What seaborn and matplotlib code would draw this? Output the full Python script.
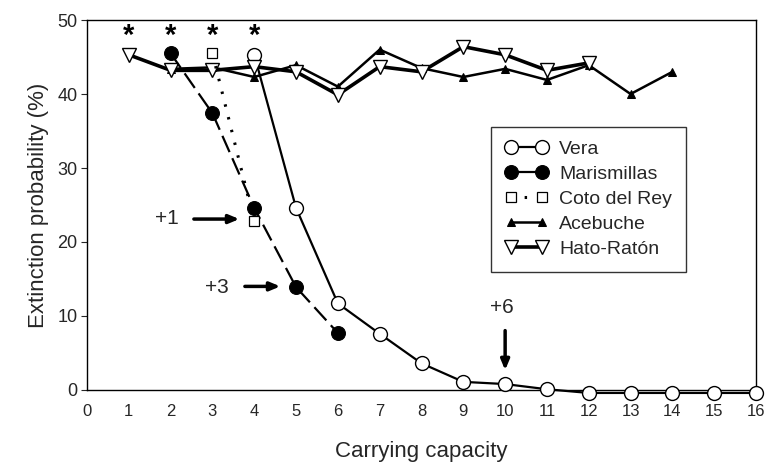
import numpy as np
import pandas as pd
import matplotlib
matplotlib.use("Agg")
import matplotlib.pyplot as plt
import seaborn as sns

# --- data ---
vera_x = [4, 5, 6, 7, 8, 9, 10, 11, 12, 13, 14, 15, 16]
vera_y = [45.3, 24.6, 11.7, 7.6, 3.6, 1.1, 0.8, 0.1, -0.4, -0.4, -0.4, -0.4, -0.4]

maris_x = [2, 3, 4, 5, 6]
maris_y = [45.5, 37.4, 24.6, 13.9, 7.7]

coto_x = [3, 4]
coto_y = [45.5, 22.8]

acebuche_x = [2, 3, 4, 5, 6, 7, 8, 9, 10, 11, 12, 13, 14]
acebuche_y = [43.4, 43.6, 42.3, 43.9, 41.0, 46.0, 43.5, 42.3, 43.4, 41.9, 43.9, 40.0, 43.0]

hato_x = [1, 2, 3, 4, 5, 6, 7, 8, 9, 10, 11, 12]
hato_y = [45.3, 43.2, 43.2, 43.7, 43.0, 39.9, 43.7, 43.0, 46.4, 45.3, 43.2, 44.2]

star_x = [1, 2, 3, 4]
star_y = 47.8

annot_labels = ["+1", "+3", "+6"]

sns.set_style("white")
plt.rcParams['font.family'] = ['Liberation Sans', 'DejaVu Sans']

fig = plt.figure(figsize=(7.67, 4.71), dpi=100)
ax = fig.add_axes([0.1134, 0.172, 0.8723, 0.7855])

sns.lineplot(x=vera_x, y=vera_y, ax=ax, color='black', lw=1.6, marker='o',
             markersize=10, markerfacecolor='white', markeredgecolor='black',
             markeredgewidth=1.0, label='Vera', clip_on=False, zorder=4)
sns.lineplot(x=maris_x, y=maris_y, ax=ax, color='black', lw=1.6, marker='o',
             markersize=10, markerfacecolor='black', markeredgecolor='black',
             linestyle=(0, (8, 3)), label='Marismillas', zorder=5)
sns.lineplot(x=coto_x, y=coto_y, ax=ax, color='black', lw=2.2, marker='s',
             markersize=6.5, markerfacecolor='white', markeredgecolor='black',
             markeredgewidth=0.9, linestyle=(0, (0.8, 3.5)), label='Coto del Rey', zorder=5)
sns.lineplot(x=acebuche_x, y=acebuche_y, ax=ax, color='black', lw=1.8, marker='^',
             markersize=6, markerfacecolor='black', markeredgecolor='black',
             label='Acebuche', zorder=3)
sns.lineplot(x=hato_x, y=hato_y, ax=ax, color='black', lw=2.6, marker='v',
             markersize=10.5, markerfacecolor='white', markeredgecolor='black',
             markeredgewidth=1.0, label='Hato-Ratón', zorder=4)

# significance stars
for sx in star_x:
    ax.text(sx, star_y, '*', ha='center', va='center', fontsize=21,
            fontweight='bold', color='black')

# arrows with extra-individual labels
arrow_kw = dict(arrowstyle='-|>,head_length=0.6,head_width=0.25', lw=2.5, color='black')
ax.annotate('', xy=(3.71, 23.1), xytext=(2.49, 23.1), arrowprops=arrow_kw)
ax.text(1.9, 23.2, annot_labels[0], ha='center', va='center', fontsize=15)
ax.annotate('', xy=(4.69, 14.0), xytext=(3.71, 14.0), arrowprops=arrow_kw)
ax.text(3.1, 13.9, annot_labels[1], ha='center', va='center', fontsize=15)
ax.annotate('', xy=(10.0, 2.3), xytext=(10.0, 8.4), arrowprops=arrow_kw)
ax.text(9.93, 11.1, annot_labels[2], ha='center', va='center', fontsize=15)

ax.set_xlim(0, 16)
ax.set_ylim(0, 50)
ax.set_xticks(range(0, 17))
ax.set_yticks(range(0, 51, 10))
ax.tick_params(axis='x', direction='in', length=3, labelsize=12, pad=10)
ax.tick_params(axis='y', direction='out', length=4, labelsize=13, pad=3, left=True)
ax.set_xlabel('Carrying capacity', fontsize=16, labelpad=16)
ax.set_ylabel('Extinction probability (%)', fontsize=16, labelpad=6)

for s in ax.spines.values():
    s.set_color('black')
    s.set_linewidth(1.0)

leg = ax.legend(loc='upper left', bbox_to_anchor=(0.604, 0.711), numpoints=2,
                fontsize=14, frameon=True, fancybox=False, edgecolor='black',
                handlelength=2.2, handletextpad=0.6, borderpad=0.7, labelspacing=0.38,
                borderaxespad=0)
leg.get_frame().set_linewidth(1.0)
# legend shows Marismillas as a solid line
leg.get_lines()[1].set_linestyle('-')

fig.savefig('out.png', dpi=100)
